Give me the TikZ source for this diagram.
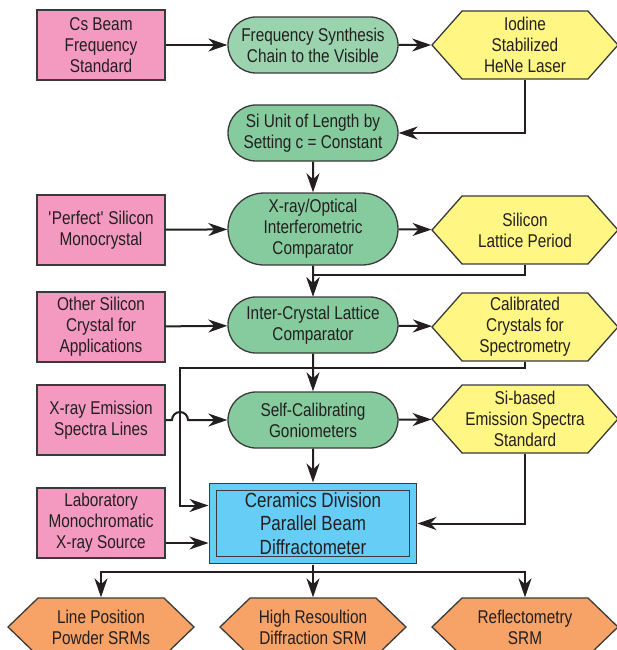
\documentclass[tikz,border=0pt]{standalone}
\usepackage{fontspec}
\setmainfont{Liberation Sans}[FakeStretch=0.83]
\usepackage{tikz}
\usetikzlibrary{positioning}
\usetikzlibrary{shapes.misc,shapes.symbols}
\usetikzlibrary{arrows.meta}

\definecolor{srcpink}{HTML}{F49AC1}
\definecolor{procgreen}{HTML}{86CB9D}
\definecolor{procgreenlt}{HTML}{9AD3AE}
\definecolor{stdyellow}{HTML}{FFF684}
\definecolor{coreblue}{HTML}{66CDF6}
\definecolor{srmorange}{HTML}{F7A266}
\definecolor{edgegray}{HTML}{3A3A3A}
\definecolor{inkgray}{HTML}{231F20}

\begin{document}
\begin{tikzpicture}[x=1pt,y=-1pt]
% Style definitions
\tikzset{
    block/.style={draw=edgegray, line width=1.3pt, align=center, text=inkgray,
                  inner sep=0pt, font=\fontsize{18.5}{21}\selectfont},
    source/.style={block, fill=srcpink, minimum width=128pt, minimum height=70pt},
    process/.style={block, fill=procgreen, rounded rectangle, minimum width=170pt,
                    minimum height=56pt},
    standard/.style={block, fill=stdyellow, signal, signal to=west and east,
                     signal pointer angle=97, minimum width=186pt, minimum height=68pt},
    product/.style={standard, fill=srmorange, minimum height=58pt, signal pointer angle=88},
    core/.style={block, fill=coreblue, double=coreblue, double distance=6pt,
                 minimum width=200pt, minimum height=73pt, outer sep=4.5pt,
                 font=\fontsize{20.5}{23.5}\selectfont},
    link/.style={draw=inkgray, line width=2pt, -{Stealth[length=19pt,width=13pt,inset=6pt]}}
}
\useasboundingbox (0,0) rectangle (617,650);

% Left column: inputs
\node[source] (csbeam) at (101,45) {Cs Beam\\Frequency\\Standard};
\node[source] (perfect) at (101,230) {\textquotesingle Perfect\textquotesingle{} Silicon\\Monocrystal};
\node[source] (other) at (101,327) {Other Silicon\\Crystal for\\Applications};
\node[source] (emission) at (101,420) {X-ray Emission\\Spectra Lines};
\node[source] (lab) at (101,523) {Laboratory\\Monochromatic\\X-ray Source};

% Middle column: processes
\node[process, fill=procgreenlt] (synth) at (313,45) {Frequency Synthesis\\Chain to the Visible};
\node[process] (siunit) at (313,133) {Si Unit of Length by\\Setting c = Constant};
\node[process, minimum height=72pt] (interf) at (313,229) {X-ray/Optical\\Interferometric\\Comparator};
\node[process] (inter) at (313,325) {Inter-Crystal Lattice\\Comparator};
\node[process] (gonio) at (313,420) {Self-Calibrating\\Goniometers};
\node[core] (diffr) at (313,523.5) {Ceramics Division\\Parallel Beam\\Diffractometer};

% Right column: standards
\node[standard] (iodine) at (525,45) {Iodine\\Stabilized\\HeNe Laser};
\node[standard] (lattice) at (525,230) {Silicon\\Lattice Period};
\node[standard] (calib) at (525,327) {Calibrated\\Crystals for\\Spectrometry};
\node[standard] (sibased) at (525,419) {Si-based\\Emission Spectra\\Standard};

% Bottom row: SRMs
\node[product] (powder) at (101,627) {Line Position\\Powder SRMs};
\node[product] (hires) at (313,627) {High Resoultion\\Diffraction SRM};
\node[product] (reflect) at (525,627) {Reflectometry\\SRM};

% Helper points
\coordinate (bus) at (180,367);
\coordinate (hop) at (180,420);
\coordinate (labout) at ([yshift=-20pt]lab.east);

% Connecting arrows
\draw[link] (csbeam) -- (synth);
\draw[link] (synth) -- (iodine);
\draw[link] (iodine.south) |- (siunit.east);
\draw[link] (siunit) -- (interf);
\draw[link] (perfect) -- (interf);
\draw[link] (interf) -- (lattice);
\draw[link] (interf) -- (inter);
\draw[link] (lattice.south) -- ++(0,10) -| (inter.north);
\draw[link] (other) -- (inter);
\draw[link] (inter) -- (calib);
\draw[link] (inter) -- (gonio);
\draw[link] (calib.south) -- ++(0,6) -| (bus) |- ([yshift=18pt]diffr.west);
\draw[link] (emission.east) -- ([xshift=-8pt]hop)
    arc[start angle=180, end angle=0, radius=8pt] -- (gonio.west);
\draw[link] (gonio) -- (sibased);
\draw[link] (gonio) -- (diffr);
\draw[link] (sibased.south) |- (diffr.east);
\draw[link] (labout) -- (labout -| diffr.west);

\draw[link] (diffr.south) -- ++(0,7) -| (powder.north);
\draw[link] (diffr.south) -- ++(0,7) -| (reflect.north);
\draw[link] (diffr.south) -- (hires.north);

\end{tikzpicture}
\end{document}
